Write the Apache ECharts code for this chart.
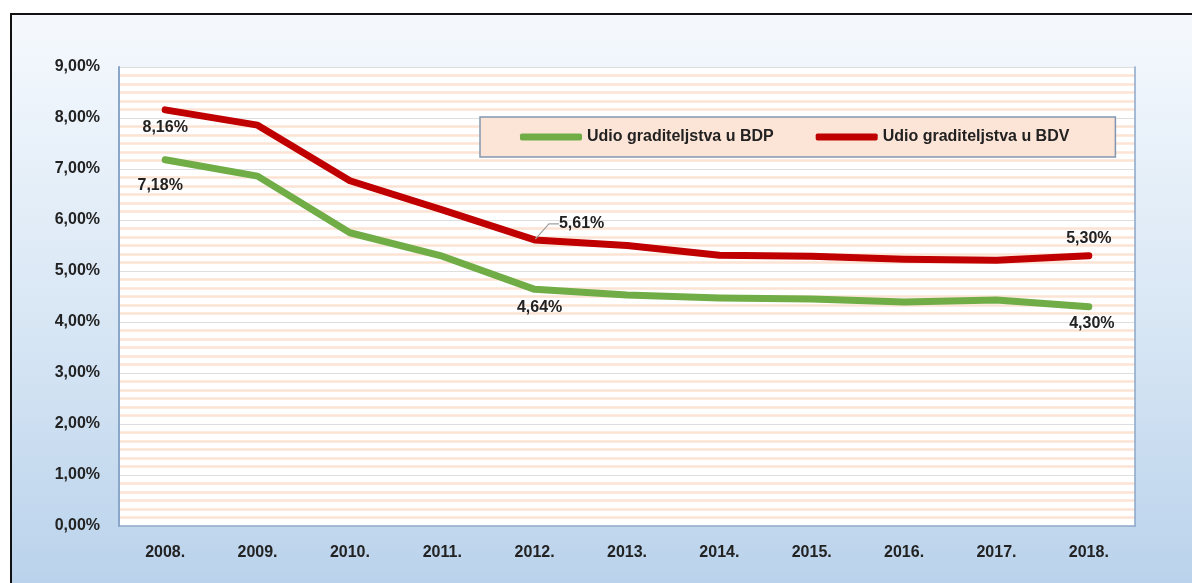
<!DOCTYPE html>
<html>
<head>
<meta charset="utf-8">
<script src="https://cdn.jsdelivr.net/npm/echarts@6/dist/echarts.min.js"></script>
<style>
html,body{margin:0;padding:0;background:#fff;}
#c{width:1192px;height:583px;}
</style>
</head>
<body>
<div id="c"></div>
<script>
const years = ['2008.','2009.','2010.','2011.','2012.','2013.','2014.','2015.','2016.','2017.','2018.'];
const bdp = [7.18, 6.86, 5.75, 5.29, 4.64, 4.53, 4.47, 4.45, 4.39, 4.43, 4.30];
const bdv = [8.16, 7.86, 6.77, 6.20, 5.61, 5.50, 5.31, 5.29, 5.23, 5.21, 5.30];
const yTicks = [0, 1, 2, 3, 4, 5, 6, 7, 8, 9];
const nameBDP = 'Udio graditeljstva u BDP';
const nameBDV = 'Udio graditeljstva u BDV';

const fmt = v => Number(v).toFixed(2).replace('.', ',') + '%';
const FONT = 'Liberation Sans, Arial, sans-serif';
const labelFont = {fontFamily:FONT, fontWeight:'bold', fontSize:16, color:'#222'};

// labelled points: index -> label settings (styling only)
const bdpLabels = {
  0: {position:'bottom', distance:17, offset:[-5,0]},
  4: {position:'bottom', distance:9, offset:[5,0]},
  10:{position:'bottom', distance:8, offset:[3,0]}
};
const bdvLabels = {
  0: {position:'bottom', distance:9, offset:[1,0]},
  4: {position:'top', distance:4},
  10:{position:'top', distance:8, offset:[1,0]}
};
function build(arr, labels, leaderIdx){
  return arr.map((v,i)=>{
    if(labels[i]){
      const item = {value:v, label:Object.assign({show:true, formatter:p=>fmt(p.value)}, labelFont, labels[i])};
      if(i===leaderIdx){
        item.labelLine = {show:true, length2:10, lineStyle:{color:'#a0a0a0', width:1.2}};
      }
      return item;
    }
    return {value:v};
  });
}

const chart = echarts.init(document.getElementById('c'), null, {renderer:'canvas'});
const axisBlue = '#8aa6c9';
chart.setOption({
  animation:false,
  backgroundColor:'#ffffff',
  graphic:[{
    type:'rect', z:-10, silent:true,
    shape:{x:11, y:14, width:1200, height:600},
    style:{
      fill:new echarts.graphic.LinearGradient(0,0,0,1,[
        {offset:0, color:'#f5f9fd'},
        {offset:0.55, color:'#d6e5f4'},
        {offset:1, color:'#b6d0ea'}
      ]),
      stroke:'#111', lineWidth:2
    }
  }],
  grid:{left:119, top:67, right:57, bottom:57, show:true, backgroundColor:'#ffffff', borderWidth:0},
  legend:{
    left:480, top:117,
    padding:[12,46,12,40],
    itemGap:42, itemWidth:62, itemHeight:7,
    backgroundColor:'#fce4d6', borderColor:'#8296b0', borderWidth:1.5,
    textStyle:{fontFamily:FONT, fontWeight:'bold', fontSize:16, color:'#222', width:195},
    data:[{name:nameBDP, icon:'roundRect'},{name:nameBDV, icon:'roundRect'}]
  },
  xAxis:[{
    type:'category', data:years, boundaryGap:true,
    axisLine:{show:false}, axisTick:{show:false},
    axisLabel:{margin:19, fontFamily:FONT, fontWeight:'bold', fontSize:16, color:'#222'}
  },{
    type:'category', data:years, position:'top', boundaryGap:true,
    axisLine:{show:true, lineStyle:{color:axisBlue, width:1.5}}, axisTick:{show:false}, axisLabel:{show:false}
  }],
  yAxis:[{
    type:'value', min:yTicks[0], max:yTicks[yTicks.length-1], interval:1,
    axisLine:{show:true, lineStyle:{color:axisBlue, width:2}}, axisTick:{show:false},
    axisLabel:{margin:19, formatter:fmt, fontFamily:FONT, fontWeight:'bold', fontSize:16, color:'#222'},
    splitLine:{show:true, lineStyle:{color:'#dedede', width:1}},
    minorTick:{show:false, splitNumber:6},
    minorSplitLine:{show:true, lineStyle:{color:'#fde3d3', width:2.5}}
  },{
    type:'value', min:yTicks[0], max:yTicks[yTicks.length-1], interval:1, position:'right',
    axisLine:{show:true, lineStyle:{color:axisBlue, width:1.5}}, axisTick:{show:false}, axisLabel:{show:false},
    splitLine:{show:false}
  }],
  series:[{
    name:nameBDP, type:'line', data:build(bdp, bdpLabels, -1),
    symbol:'circle', symbolSize:2, showSymbol:true,
    itemStyle:{color:'#70ad47'},
    lineStyle:{color:'#70ad47', width:7, cap:'round', join:'round'},
    z:3
  },{
    name:nameBDV, type:'line', data:build(bdv, bdvLabels, 4),
    symbol:'circle', symbolSize:2, showSymbol:true,
    itemStyle:{color:'#c00000'},
    lineStyle:{color:'#c00000', width:7, cap:'round', join:'round'},
    labelLayout: function(p){ return p.dataIndex === 4 ? {dx:47, dy:-3} : {}; },
    z:3
  }]
});
</script>
</body>
</html>
